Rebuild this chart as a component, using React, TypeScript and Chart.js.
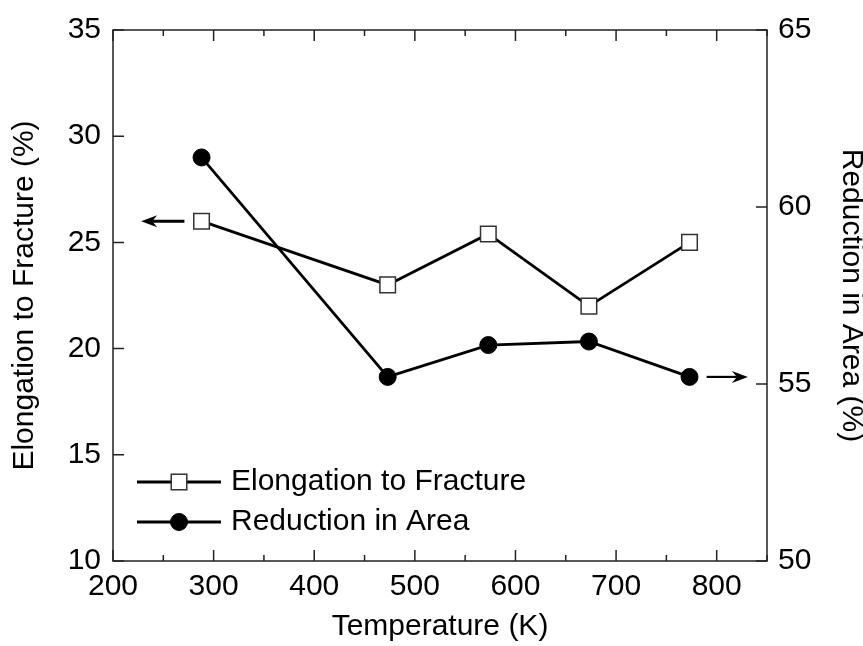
import React, { useEffect, useRef } from "react";
import { Chart, registerables } from "chart.js";
Chart.register(...registerables);

const temperatures = [288, 473, 573, 673, 773];
const elongation = [26.0, 23.0, 25.4, 22.0, 25.0];
const reduction = [61.4, 55.2, 56.1, 56.2, 55.2];
const seriesNames = ["Elongation to Fracture", "Reduction in Area"];
const xRange = [200, 850];
const xStep = 100;
const xMinorStep = 50;
const leftRange = [10, 35];
const rightRange = [50, 65];
const yStep = 5;
const arrowLeft = { x: [271, 228], y: 26 };
const arrowRight = { x: [790, 831], y: 55.2 };

const FONT = "'Liberation Sans', Arial, sans-serif";

function drawArrow(ctx: CanvasRenderingContext2D, x0: number, y0: number, x1: number, y1: number) {
  const dx = x1 - x0, dy = y1 - y0;
  const len = Math.hypot(dx, dy);
  const ux = dx / len, uy = dy / len;
  const nx = -uy, ny = ux;
  const head = 16, half = 6, notch = 11;
  ctx.beginPath();
  ctx.moveTo(x0, y0);
  ctx.lineTo(x1 - ux * notch, y1 - uy * notch);
  ctx.stroke();
  ctx.beginPath();
  ctx.moveTo(x1, y1);
  ctx.lineTo(x1 - ux * head + nx * half, y1 - uy * head + ny * half);
  ctx.lineTo(x1 - ux * notch, y1 - uy * notch);
  ctx.lineTo(x1 - ux * head - nx * half, y1 - uy * head - ny * half);
  ctx.closePath();
  ctx.fill();
}

const framePlugin = {
  id: "frameTicks",
  beforeDatasetsDraw(chart: any) {
    const { ctx, chartArea, scales } = chart;
    const { left, right, top, bottom } = chartArea;
    ctx.save();
    ctx.strokeStyle = "#222";
    ctx.lineWidth = 1.5;
    ctx.strokeRect(left, top, right - left, bottom - top);
    ctx.beginPath();
    for (let v = xRange[0]; v <= xRange[1]; v += xMinorStep) {
      const px = scales.x.getPixelForValue(v);
      const len = (v - xRange[0]) % xStep === 0 ? 11 : 6;
      ctx.moveTo(px, bottom);
      ctx.lineTo(px, bottom - len);
      ctx.moveTo(px, top);
      ctx.lineTo(px, top + len);
    }
    scales.y.ticks.forEach((t: any) => {
      const py = scales.y.getPixelForValue(t.value);
      ctx.moveTo(left, py);
      ctx.lineTo(left + 11, py);
    });
    scales.y1.ticks.forEach((t: any) => {
      const py = scales.y1.getPixelForValue(t.value);
      ctx.moveTo(right, py);
      ctx.lineTo(right - 11, py);
    });
    ctx.stroke();
    ctx.restore();
  },
  afterDraw(chart: any) {
    const { ctx, chartArea, scales } = chart;
    ctx.save();
    ctx.strokeStyle = "#000";
    ctx.fillStyle = "#000";
    ctx.lineWidth = 3;
    const ly = scales.y.getPixelForValue(arrowLeft.y);
    drawArrow(ctx, scales.x.getPixelForValue(arrowLeft.x[0]), ly, scales.x.getPixelForValue(arrowLeft.x[1]), ly);
    ctx.lineWidth = 2.2;
    const ry = scales.y1.getPixelForValue(arrowRight.y);
    drawArrow(ctx, scales.x.getPixelForValue(arrowRight.x[0]), ry, scales.x.getPixelForValue(arrowRight.x[1]), ry);

    // legend
    const lx0 = chartArea.left + 24;
    const lx1 = chartArea.left + 108;
    const tx = chartArea.left + 118;
    const rows = [chartArea.bottom - 79, chartArea.bottom - 39];
    chart.data.datasets.forEach((ds: any, i: number) => {
      const y = rows[i];
      ctx.strokeStyle = "#000";
      ctx.lineWidth = 2.8;
      ctx.beginPath();
      ctx.moveTo(lx0, y);
      ctx.lineTo(lx1, y);
      ctx.stroke();
      const cx = (lx0 + lx1) / 2;
      ctx.lineWidth = ds.pointBorderWidth;
      ctx.strokeStyle = ds.pointBorderColor;
      ctx.fillStyle = ds.pointBackgroundColor;
      if (ds.pointStyle === "rect") {
        const s = ds.pointRadius * Math.SQRT1_2;
        ctx.fillRect(cx - s, y - s, 2 * s, 2 * s);
        ctx.strokeRect(cx - s, y - s, 2 * s, 2 * s);
      } else {
        ctx.beginPath();
        ctx.arc(cx, y, ds.pointRadius, 0, Math.PI * 2);
        ctx.fill();
        ctx.stroke();
      }
      ctx.fillStyle = "#000";
      ctx.font = `30px ${FONT}`;
      ctx.textAlign = "left";
      ctx.textBaseline = "middle";
      ctx.fillText(ds.label, tx, y);
    });
    ctx.restore();
  },
};

export default function App() {
  const ref = useRef<HTMLCanvasElement>(null);
  useEffect(() => {
    if (!ref.current) return;
    const tickFont = { family: FONT, size: 30 };
    const chart = new Chart(ref.current, {
      type: "line",
      data: {
        datasets: [
          {
            label: seriesNames[0],
            data: temperatures.map((t, i) => ({ x: t, y: elongation[i] })),
            yAxisID: "y",
            borderColor: "#000",
            borderWidth: 2.8,
            pointStyle: "rect",
            pointRadius: 11,
            pointBackgroundColor: "#fff",
            pointBorderColor: "#333",
            pointBorderWidth: 1.5,
            tension: 0,
          },
          {
            label: seriesNames[1],
            data: temperatures.map((t, i) => ({ x: t, y: reduction[i] })),
            yAxisID: "y1",
            borderColor: "#000",
            borderWidth: 2.8,
            pointStyle: "circle",
            pointRadius: 8.5,
            pointBackgroundColor: "#000",
            pointBorderColor: "#000",
            pointBorderWidth: 1,
            tension: 0,
          },
        ],
      },
      options: {
        animation: false,
        responsive: false,
        layout: { padding: { top: 27, left: 0, right: 0, bottom: 0 } },
        plugins: { legend: { display: false }, tooltip: { enabled: false } },
        scales: {
          x: {
            type: "linear",
            position: "bottom",
            min: xRange[0],
            max: xRange[1],
            grid: { display: false, drawTicks: false },
            border: { display: false },
            ticks: { stepSize: xStep, includeBounds: false, font: tickFont, color: "#000", padding: 8 },
            title: { display: true, text: "Temperature (K)", font: tickFont, color: "#000", padding: { top: 0, bottom: 1 } },
            afterFit: (s: any) => { s.height = 85; },
          },
          y: {
            type: "linear",
            position: "left",
            min: leftRange[0],
            max: leftRange[1],
            grid: { display: false, drawTicks: false },
            border: { display: false },
            ticks: { stepSize: yStep, font: tickFont, color: "#000", padding: 12 },
            title: { display: true, text: "Elongation to Fracture (%)", font: tickFont, color: "#000", padding: { top: 7, bottom: 0 } },
            afterFit: (s: any) => { s.width = 113; },
          },
          y1: {
            type: "linear",
            position: "right",
            min: rightRange[0],
            max: rightRange[1],
            grid: { display: false, drawTicks: false },
            border: { display: false },
            ticks: { stepSize: yStep, font: tickFont, color: "#000", padding: 11 },
            title: { display: true, text: "Reduction in Area (%)", font: tickFont, color: "#000", padding: { top: -6, bottom: 0 } },
            afterFit: (s: any) => { s.width = 96; },
          },
        },
      },
      plugins: [framePlugin],
    } as any);
    return () => chart.destroy();
  }, []);
  return (
    <div style={{ position: "absolute", left: 0, top: 0, width: 863, height: 646, background: "#fff" }}>
      <canvas ref={ref} width={863} height={646} style={{ display: "block" }} />
    </div>
  );
}
